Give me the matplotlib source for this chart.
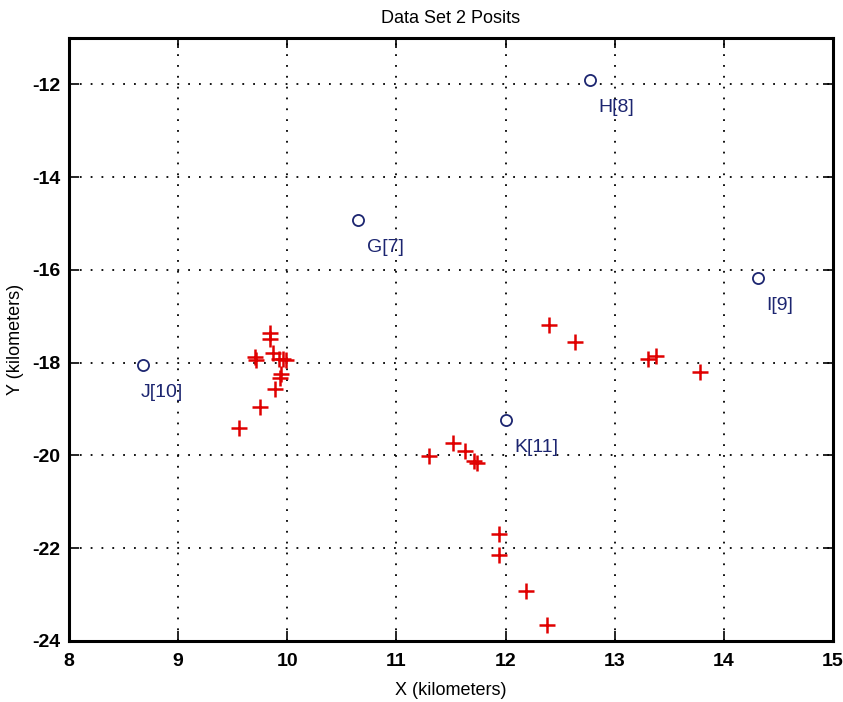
import numpy as np
import matplotlib.pyplot as plt

# red "+" posits
pos_x = [9.84, 9.84, 9.70, 9.71, 9.87, 9.92, 9.96, 9.99, 9.94, 9.93, 9.89, 9.75, 9.56,
         11.30, 11.52, 11.63, 11.71, 11.74,
         11.94, 11.94, 12.19, 12.38,
         12.40, 12.64, 13.31, 13.38, 13.78]
pos_y = [-17.36, -17.48, -17.88, -17.95, -17.80, -17.91, -17.93, -17.95, -18.24, -18.34, -18.56, -18.95, -19.40,
         -20.02, -19.74, -19.90, -20.12, -20.16,
         -21.70, -22.15, -22.92, -23.66,
         -17.18, -17.56, -17.93, -17.86, -18.21]

# blue "o" reference points
ref_names = ['G[7]', 'H[8]', 'I[9]', 'J[10]', 'K[11]']
ref_x = [10.65, 12.77, 14.31, 8.68, 12.00]
ref_y = [-14.93, -11.91, -16.18, -18.06, -19.24]

navy = '#1c2570'

def main():
    plt.rcParams['font.family'] = ['Liberation Sans Narrow', 'Liberation Sans', 'DejaVu Sans']
    plt.rcParams['axes.unicode_minus'] = False
    fig = plt.figure(figsize=(8.43, 7.02), dpi=100)
    ax = fig.add_axes([0.0819, 0.0869, 0.9061, 0.859])

    ax.grid(True, color='black', linestyle=(0, (1, 5)), linewidth=1.3)
    ax.set_axisbelow(True)

    ax.plot(pos_x, pos_y, '+', color='#e00000', markersize=11, markeredgewidth=1.8, linestyle='none')
    ax.plot(ref_x, ref_y, 'o', markerfacecolor='white', markeredgecolor=navy,
            markersize=8, markeredgewidth=1.3, linestyle='none')
    for name, x, y in zip(ref_names, ref_x, ref_y):
        dx = -0.02 if name == 'J[10]' else 0.08
        ax.text(x + dx, y - 0.40, name, color=navy, fontsize=14, ha='left', va='top')

    ax.set_xlim(8, 15)
    ax.set_ylim(-24, -11)
    ax.set_xticks(range(8, 16))
    ax.set_yticks(range(-24, -11, 2))
    ax.tick_params(direction='in', length=7, width=1.2, labelsize=14, top=True, right=True,
                   labeltop=False, labelright=False)
    ax.tick_params(axis='x', pad=9)
    ax.tick_params(axis='y', pad=6)
    for lab in ax.get_xticklabels() + ax.get_yticklabels():
        lab.set_fontweight('bold')
    for s in ax.spines.values():
        s.set_linewidth(2.2)

    ax.set_title('Data Set 2 Posits', fontsize=13, pad=11)
    ax.set_xlabel('X (kilometers)', fontsize=13, labelpad=8)
    ax.set_ylabel('Y (kilometers)', fontsize=13, labelpad=6)

    fig.savefig('out.png', dpi=100)

if __name__ == '__main__':
    main()
